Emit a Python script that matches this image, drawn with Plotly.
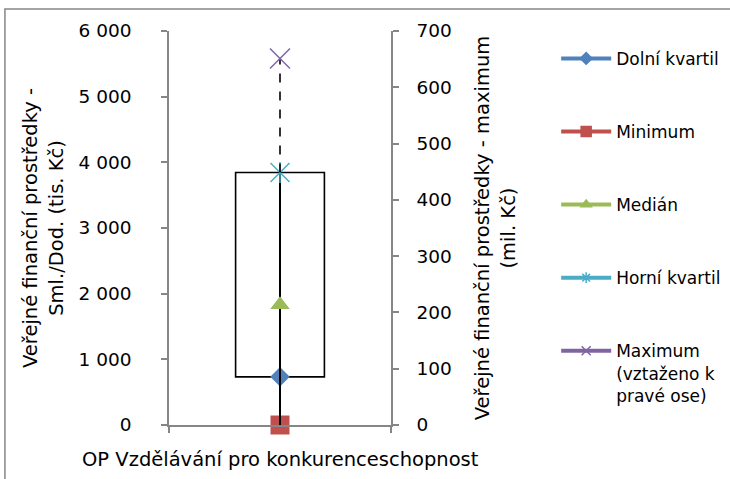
import plotly.graph_objects as go

# Category and summary statistics (left axis: tis. Kč, maximum on right axis: mil. Kč)
category = ["OP Vzdělávání pro konkurenceschopnost"]
lower_quartile = [733]
minimum = [0]
median = [1830]
upper_quartile = [3845]
maximum_right = [651]

left_range = [0, 6000]
right_range = [0, 700]
left_ticks = [0, 1000, 2000, 3000, 4000, 5000, 6000]
right_ticks = [0, 100, 200, 300, 400, 500, 600, 700]

FONT = "DejaVu Sans"
AXIS_GREY = "#868686"
BOX_HALF_WIDTH = 0.2

xpos = [0]
scale = right_range[1] / left_range[1]

fig = go.Figure()

# plotted markers (legend entries drawn separately with smaller markers)
fig.add_trace(go.Scatter(x=xpos, y=lower_quartile, mode="markers", showlegend=False,
                         marker=dict(symbol="diamond", size=15, color="#4F81BD")))
fig.add_trace(go.Scatter(x=xpos, y=minimum, mode="markers", showlegend=False, cliponaxis=False,
                         marker=dict(symbol="square", size=19, color="#C0504D")))

# whisker from minimum to upper quartile
fig.add_trace(go.Scatter(x=xpos * 2, y=[minimum[0], upper_quartile[0]], mode="lines",
                         showlegend=False, line=dict(color="black", width=2)))
# dashed segment from upper quartile to maximum (right axis units)
fig.add_trace(go.Scatter(x=xpos * 2, y=[upper_quartile[0] * scale, maximum_right[0]],
                         yaxis="y2", mode="lines", showlegend=False,
                         line=dict(color="black", width=1.6, dash="dash")))

fig.add_trace(go.Scatter(x=xpos, y=median, mode="markers", showlegend=False,
                         marker=dict(symbol="triangle-up", size=17, color="#9BBB59")))
for sym in ["x-thin-open", "line-ns-open"]:
    fig.add_trace(go.Scatter(x=xpos, y=upper_quartile, mode="markers", showlegend=False,
                             marker=dict(symbol=sym, size=19 if sym == "x-thin-open" else 15,
                                         color="#4BACC6", line=dict(width=1.5, color="#4BACC6"))))
fig.add_trace(go.Scatter(x=xpos, y=maximum_right, yaxis="y2", mode="markers", showlegend=False,
                         marker=dict(symbol="x-thin-open", size=20, color="#8064A2",
                                     line=dict(width=1.5, color="#8064A2"))))

# legend entries
legend_items = [
    ("Dolní kvartil", "#4F81BD", "diamond", 9),
    ("Minimum", "#C0504D", "square", 10),
    ("Medián", "#9BBB59", "triangle-up", 9),
    ("Horní kvartil", "#4BACC6", "asterisk-open", 9),
    ("Maximum<br>(vztaženo k<br>pravé ose)", "#8064A2", "x-thin-open", 9),
]
for i, (name, color, sym, size) in enumerate(legend_items):
    fig.add_trace(go.Scatter(x=[None], y=[None], mode="lines+markers", name=name,
                             legendgroup=f"g{i}",
                             line=dict(color=color, width=4),
                             marker=dict(symbol=sym, size=size, color=color,
                                         line=dict(width=1.5, color=color))))

# box between quartiles
fig.add_shape(type="rect", xref="x", yref="y",
              x0=xpos[0] - BOX_HALF_WIDTH, x1=xpos[0] + BOX_HALF_WIDTH,
              y0=lower_quartile[0], y1=upper_quartile[0],
              line=dict(color="black", width=1.6), layer="below")

# chart frame
fig.add_shape(type="rect", xref="paper", yref="paper",
              x0=-0.739, x1=2.6, y0=-0.2, y1=1.056,
              line=dict(color=AXIS_GREY, width=1.5))

# category label
fig.add_annotation(x=xpos[0], y=0, xref="x", yref="paper", yanchor="top", yshift=-21,
                   text=category[0], showarrow=False,
                   font=dict(family=FONT, size=19.5, color="black"))

fig.update_layout(
    width=730, height=479,
    margin=dict(l=169, r=339, t=31, b=54, autoexpand=False),
    paper_bgcolor="white", plot_bgcolor="white",
    font=dict(family=FONT, size=17, color="black"),
    separators=", ",
    xaxis=dict(range=[-0.5, 0.5], tickvals=[-0.5, 0.5], ticktext=["", ""],
               ticks="outside", ticklen=6, tickcolor=AXIS_GREY, tickwidth=1.5,
               showline=True, linecolor=AXIS_GREY, linewidth=1.5,
               showgrid=False, zeroline=False, fixedrange=True),
    yaxis=dict(range=left_range, tickvals=left_ticks, tickformat=",d",
               ticks="outside", ticklen=6, tickcolor=AXIS_GREY, tickwidth=1.5,
               ticklabelstandoff=26, automargin=False,
               showline=True, linecolor=AXIS_GREY, linewidth=1.5,
               showgrid=False, zeroline=False, tickfont=dict(size=18.5),
               title=dict(text="Veřejné finanční prostředky -<br>Sml./Dod. (tis. Kč)",
                          font=dict(size=19.5), standoff=10)),
    yaxis2=dict(range=right_range, tickvals=right_ticks, overlaying="y", side="right",
                ticks="outside", ticklen=6, tickcolor=AXIS_GREY, tickwidth=1.5,
                ticklabelstandoff=14, automargin=False,
                showline=True, linecolor=AXIS_GREY, linewidth=1.5,
                showgrid=False, zeroline=False, tickfont=dict(size=18.5),
                title=dict(text="Veřejné finanční prostředky - maximum<br>(mil. Kč)",
                           font=dict(size=19.5), standoff=25)),
    legend=dict(x=1.744, y=0.975, xanchor="left", yanchor="top",
                traceorder="grouped", tracegroupgap=48, valign="top",
                font=dict(family=FONT, size=17), itemwidth=50,
                bgcolor="rgba(0,0,0,0)"),
)

fig.write_html("out.html")
